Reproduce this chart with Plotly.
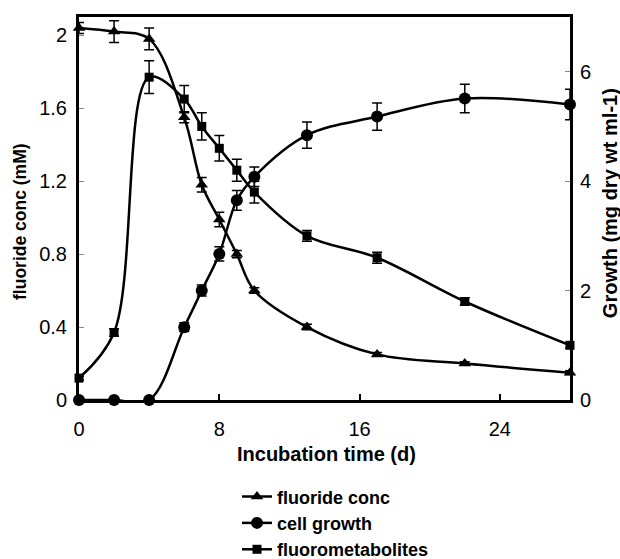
import plotly.graph_objects as go

days = [0, 2, 4, 6, 7, 8, 9, 10, 13, 17, 22, 28]

fluoride_conc = [2.04, 2.02, 1.98, 1.55, 1.18, 0.99, 0.80, 0.60, 0.40, 0.25, 0.20, 0.15]
fluoride_err = [0.03, 0.06, 0.06, 0.03, 0.04, 0.04, 0.02, 0.015, 0.015, 0.01, 0.01, 0.01]

cell_growth = [0, 0, 0, 1.33, 2.0, 2.67, 3.65, 4.08, 4.84, 5.18, 5.51, 5.40]
cell_err = [0, 0, 0, 0.08, 0.1, 0.13, 0.18, 0.18, 0.24, 0.25, 0.26, 0.28]

fluorometabolites = [0.12, 0.37, 1.77, 1.65, 1.50, 1.38, 1.26, 1.14, 0.90, 0.78, 0.54, 0.30]
fluoro_err = [0.01, 0.02, 0.09, 0.075, 0.075, 0.07, 0.06, 0.06, 0.03, 0.03, 0.02, 0.015]

x_ticks = [0, 8, 16, 24]
left_ticks = [0, 0.4, 0.8, 1.2, 1.6, 2.0]
left_labels = ["0", "0.4", "0.8", "1.2", "1.6", "2"]
right_ticks = [0, 2, 4, 6]

FONT = "Liberation Sans, Arial, sans-serif"

fig = go.Figure()

def err(vals):
    return dict(type="data", array=vals, visible=True, color="black",
                thickness=1.5, width=5)

fig.add_trace(go.Scatter(
    x=days, y=fluoride_conc, name="fluoride conc", mode="lines+markers",
    line=dict(color="black", width=2.5, shape="spline", smoothing=1),
    marker=dict(symbol="triangle-up", size=11, color="black"),
    error_y=err(fluoride_err), cliponaxis=False, yaxis="y"))

fig.add_trace(go.Scatter(
    x=days, y=cell_growth, name="cell growth", mode="lines+markers",
    line=dict(color="black", width=2.5, shape="spline", smoothing=1),
    marker=dict(symbol="circle", size=12, color="black"),
    error_y=err(cell_err), cliponaxis=False, yaxis="y2"))

fig.add_trace(go.Scatter(
    x=days, y=fluorometabolites, name="fluorometabolites", mode="lines+markers",
    line=dict(color="black", width=2.5, shape="spline", smoothing=1),
    marker=dict(symbol="square", size=9, color="black"),
    error_y=err(fluoro_err), cliponaxis=False, yaxis="y"))

fig.update_layout(
    template="none",
    width=620, height=559,
    margin=dict(l=79, r=50, t=17, b=159, autoexpand=False),
    paper_bgcolor="white", plot_bgcolor="white",
    font=dict(family=FONT, color="black", size=20),
    showlegend=True,
    legend=dict(x=0.3218, y=0.1444, xref="paper", yref="container",
                xanchor="left", yanchor="top",
                font=dict(family=FONT, size=18, color="black", weight="bold"),
                bgcolor="rgba(0,0,0,0)", borderwidth=0, tracegroupgap=0),
    xaxis=dict(range=[0, 28], tickvals=x_ticks, ticktext=[str(v) for v in x_ticks],
               showline=True, linecolor="black", linewidth=3, mirror=True,
               ticks="inside", ticklen=6, tickwidth=2, tickcolor="black",
               showgrid=False, zeroline=False, automargin=False,
               tickfont=dict(size=20), ticklabelstandoff=9),
    xaxis2=dict(range=[0, 28], overlaying="x", side="top", anchor="y",
                showline=True, linecolor="black", linewidth=3,
                ticks="", showticklabels=False, showgrid=False, zeroline=False,
                automargin=False),
    yaxis=dict(range=[0, 2.1], tickvals=left_ticks, ticktext=left_labels,
               showline=True, linecolor="black", linewidth=3,
               ticks="inside", ticklen=5, tickwidth=1, tickcolor="#888888",
               showgrid=False, zeroline=False, automargin=False,
               tickfont=dict(size=20), ticklabelstandoff=5),
    yaxis2=dict(range=[0, 7], tickvals=right_ticks, ticktext=[str(v) for v in right_ticks],
                overlaying="y", side="right", anchor="x",
                showline=True, linecolor="black", linewidth=3,
                ticks="inside", ticklen=5, tickwidth=1, tickcolor="#888888",
                showgrid=False, zeroline=False, automargin=False,
                tickfont=dict(size=20), ticklabelstandoff=3),
    annotations=[
        dict(text="<b>Incubation time (d)</b>", xref="paper", yref="paper",
             x=0.5, y=0, xshift=2, yshift=-54, xanchor="center", yanchor="middle",
             showarrow=False, font=dict(size=20)),
        dict(text="<b>fluoride conc (mM)</b>", xref="paper", yref="paper",
             x=0, y=0.4648, xshift=-59, xanchor="center", yanchor="middle",
             textangle=-90, showarrow=False, font=dict(size=17.5)),
        dict(text="<b>Growth (mg dry wt ml-1)</b>", xref="paper", yref="paper",
             x=1, y=0.514, xshift=40, xanchor="center", yanchor="middle",
             textangle=-90, showarrow=False, font=dict(size=20)),
    ],
)

fig.write_html("out.html")
